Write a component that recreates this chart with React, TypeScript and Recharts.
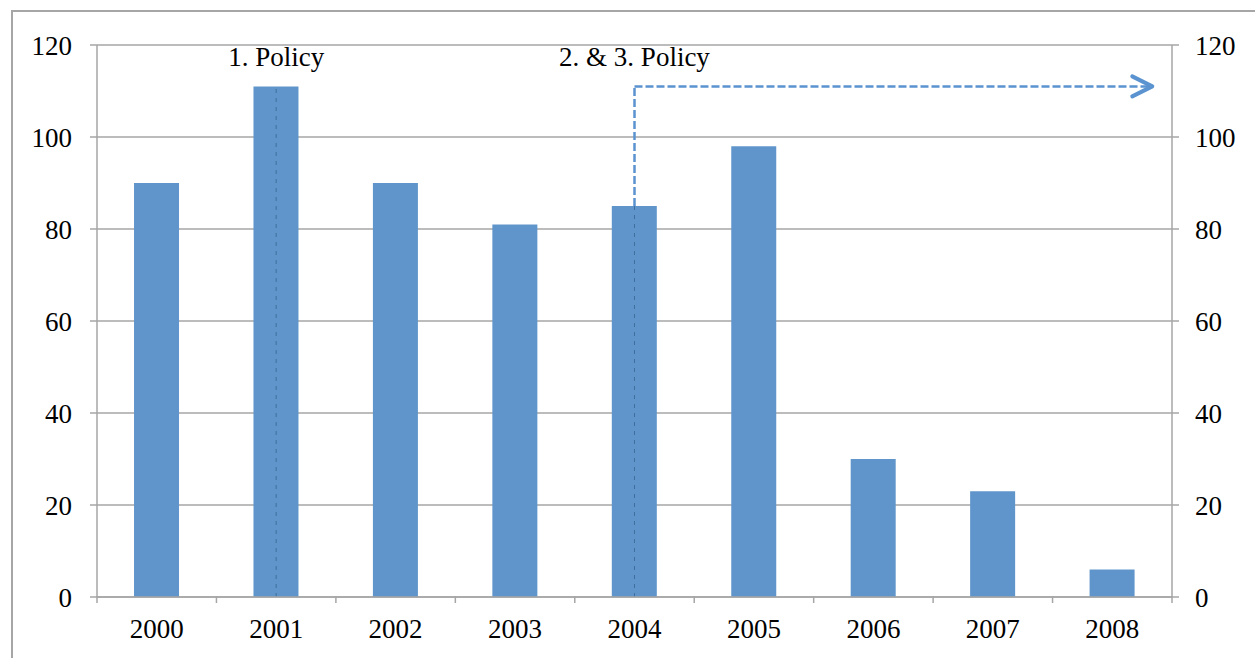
import React from 'react';
import { ComposedChart, Bar, Line, XAxis, YAxis, CartesianGrid, ReferenceLine, ReferenceDot } from 'recharts';

const years = ['2000', '2001', '2002', '2003', '2004', '2005', '2006', '2007', '2008'];
const counts = [90, 111, 90, 81, 85, 98, 30, 23, 6];
const yTicks = [0, 20, 40, 60, 80, 100, 120];

const data = years.map((year, i) => ({ year, count: counts[i] }));

const FONT = '"Liberation Serif", "DejaVu Serif", serif';
const GRID = '#a6a6a6';
const BAR = '#5f95ca';
const ARROW = '#5b93d0';

// x tick: label plus a tick mark on the left edge of each band (and right edge of the last)
const YearTick = (props: any) => {
  const { x, y, payload, index } = props;
  const half = payload.offset || 0;
  const top = y - 16;
  return (
    <g>
      <line x1={x - half} y1={top - 7} x2={x - half} y2={top} stroke={GRID} strokeWidth={1.5} />
      {index === years.length - 1 && (
        <line x1={x + half} y1={top - 7} x2={x + half} y2={top} stroke={GRID} strokeWidth={1.5} />
      )}
      <text x={x} y={y + 19} textAnchor="middle" fontFamily={FONT} fontSize={27} fill="#000">
        {payload.value}
      </text>
    </g>
  );
};

// horizontal dashed arrow, runs a bit past the last category
const ArrowShape = (props: any) => {
  const { x1, y1, x2 } = props;
  const end = x2 + 40;
  return (
    <g>
      <line x1={x1} y1={y1} x2={end - 3} y2={y1} stroke={ARROW} strokeWidth={2.5} strokeDasharray="8 3" />
      <polyline
        points={`${end - 20},${y1 - 10} ${end},${y1} ${end - 20},${y1 + 10}`}
        fill="none"
        stroke={ARROW}
        strokeWidth={4}
        strokeLinecap="round"
        strokeLinejoin="round"
      />
    </g>
  );
};

const App: React.FC = () => {
  return (
    <div style={{ position: 'absolute', left: 0, top: 0, width: 1255, height: 658, background: '#fff', overflow: 'hidden' }}>
      <div
        style={{
          position: 'absolute',
          left: 11,
          top: 10,
          width: 1300,
          height: 700,
          borderTop: '2px solid #a6a6a6',
          borderLeft: '2px solid #a6a6a6',
        }}
      />
      <div style={{ position: 'absolute', left: 0, top: 0 }}>
        <ComposedChart
          width={1255}
          height={658}
          data={data}
          margin={{ top: 45, right: 0, bottom: 21, left: 0 }}
          barCategoryGap="31%"
        >
          <CartesianGrid vertical={false} stroke={GRID} strokeWidth={1.5} yAxisId="left" />
          <XAxis
            dataKey="year"
            height={40}
            tickLine={false}
            axisLine={{ stroke: GRID, strokeWidth: 1.5 }}
            tick={<YearTick />}
            tickMargin={16}
            interval={0}
          />
          <YAxis
            yAxisId="left"
            width={97}
            domain={[0, 120]}
            ticks={yTicks}
            tickSize={7}
            tickMargin={18}
            tickLine={{ stroke: GRID, strokeWidth: 1.5 }}
            axisLine={{ stroke: GRID, strokeWidth: 1.5 }}
            tick={{ fontFamily: FONT, fontSize: 27, fill: '#000' }}
          />
          <YAxis
            yAxisId="right"
            orientation="right"
            width={83}
            domain={[0, 120]}
            ticks={yTicks}
            tickSize={7}
            tickMargin={16}
            tickLine={{ stroke: GRID, strokeWidth: 1.5 }}
            axisLine={{ stroke: GRID, strokeWidth: 1.5 }}
            tick={{ fontFamily: FONT, fontSize: 27, fill: '#000' }}
          />
          <Bar yAxisId="left" dataKey="count" fill={BAR} isAnimationActive={false} />
          {/* invisible series so the right axis gets its ticks */}
          <Line
            yAxisId="right"
            dataKey="count"
            stroke="none"
            dot={false}
            activeDot={false}
            legendType="none"
            isAnimationActive={false}
          />

          {/* 1. Policy */}
          <ReferenceLine
            yAxisId="left"
            segment={[{ x: '2001', y: 0 }, { x: '2001', y: 111 }]}
            stroke="#3f6f9f"
            strokeWidth={1}
            strokeDasharray="4 5"
          />
          <ReferenceDot
            yAxisId="left"
            x="2001"
            y={120}
            r={0}
            stroke="none"
            label={{ value: '1. Policy', position: 'bottom', offset: 2, fontFamily: FONT, fontSize: 27, fill: '#000' }}
          />

          {/* 2. & 3. Policy */}
          <ReferenceLine
            yAxisId="left"
            segment={[{ x: '2004', y: 0 }, { x: '2004', y: 85 }]}
            stroke="#3f6f9f"
            strokeWidth={1}
            strokeDasharray="4 5"
          />
          <ReferenceLine
            yAxisId="left"
            segment={[{ x: '2004', y: 85 }, { x: '2004', y: 111 }]}
            stroke={ARROW}
            strokeWidth={2.5}
            strokeDasharray="8 3"
          />
          <ReferenceLine
            yAxisId="left"
            segment={[{ x: '2004', y: 111 }, { x: '2008', y: 111 }]}
            shape={<ArrowShape />}
          />
          <ReferenceDot
            yAxisId="left"
            x="2004"
            y={120}
            r={0}
            stroke="none"
            label={{ value: '2. & 3. Policy', position: 'bottom', offset: 2, fontFamily: FONT, fontSize: 27, fill: '#000' }}
          />
        </ComposedChart>
      </div>
    </div>
  );
};

export default App;
